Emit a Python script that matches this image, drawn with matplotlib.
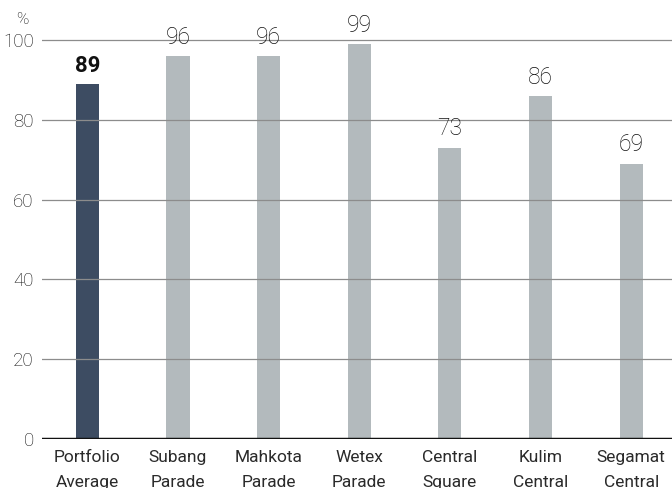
import matplotlib.pyplot as plt

categories = ["Portfolio\nAverage", "Subang\nParade", "Mahkota\nParade", "Wetex\nParade",
              "Central\nSquare", "Kulim\nCentral", "Segamat\nCentral"]
values = [89, 96, 96, 99, 73, 86, 69]
yticks = [0, 20, 40, 60, 80, 100]

plt.rcParams["font.family"] = ["Roboto", "DejaVu Sans"]

fig = plt.figure(figsize=(6.72, 4.88), dpi=100)
ax = fig.add_axes([42 / 672, 49 / 488, 630 / 672, 439 / 488])

colors = ["#3d4c62"] + ["#b3babd"] * (len(values) - 1)
x = list(range(len(values)))
ax.bar(x, values, width=0.255, color=colors, zorder=1)

for i, v in enumerate(values):
    if i == 0:
        ax.text(i, v + 1.8, str(v), ha="center", va="bottom", fontsize=16,
                fontweight="bold", color="#111111")
    else:
        ax.text(i, v + 1.8, str(v), ha="center", va="bottom", fontsize=16.5,
                fontweight="light", color="#111111")

ax.set_xlim(-0.5, 6.45)
ax.set_ylim(0, 110)
ax.set_yticks(yticks)
ax.set_yticklabels([str(t) for t in yticks], fontsize=13.5, fontweight="light", color="#111111")
ax.set_xticks(x)
ax.set_xticklabels(categories, fontsize=12.5, color="#2a2a2a", linespacing=1.85)
ax.tick_params(axis="both", length=0)
ax.tick_params(axis="y", pad=6)
ax.tick_params(axis="x", pad=8)

for t in yticks[1:]:
    ax.axhline(t, color="#8c8c8c", linewidth=0.9, zorder=2)
ax.axhline(0, color="#111111", linewidth=2.5, zorder=3)

for s in ax.spines.values():
    s.set_visible(False)

fig.text(22 / 672, 1 - 19 / 488, "%", ha="center", va="center", fontsize=12,
         fontweight="light", color="#111111")

fig.savefig("out.png", dpi=100)
